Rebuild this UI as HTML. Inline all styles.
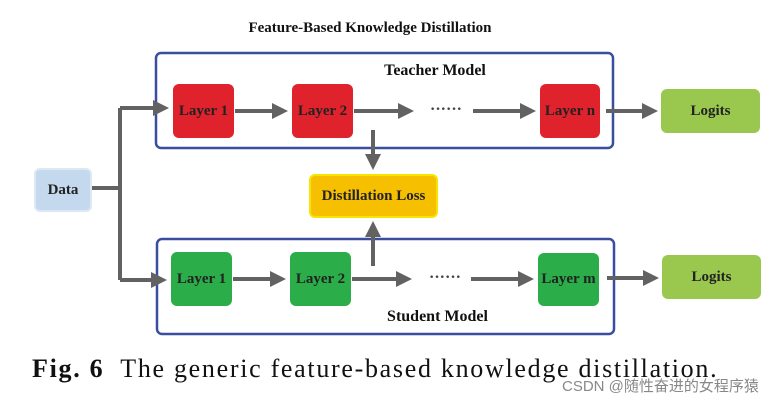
<!DOCTYPE html>
<html><head><meta charset="utf-8"><style>
body{margin:0;width:781px;height:402px;background:#fff;overflow:hidden;position:relative;font-family:"Liberation Serif",serif}
.b{position:absolute;border-radius:6px;display:flex;align-items:center;justify-content:center;font-weight:bold;font-size:15px;color:#222;white-space:nowrap}
.t{position:absolute;font-weight:bold;color:#111}
</style></head><body>
<svg width="781" height="402" style="position:absolute;left:0;top:0">
<defs><marker id="a" markerWidth="4" markerHeight="4" refX="3" refY="2" orient="auto"><path d="M0,0 L4,2 L0,4z" fill="#626262"/></marker></defs>
<rect x="156" y="53" width="457" height="95" rx="5" fill="none" stroke="#3a4ea0" stroke-width="2.5"/>
<rect x="157" y="239" width="457" height="95" rx="5" fill="none" stroke="#3a4ea0" stroke-width="2.5"/>
<g stroke="#626262" stroke-width="4" fill="none">
<path d="M92,188 H120"/><path d="M120,108 V280"/>
<path d="M120,108 H165" marker-end="url(#a)"/><path d="M120,280 H163" marker-end="url(#a)"/>
<path d="M235,111 H284" marker-end="url(#a)"/><path d="M233,279 H282" marker-end="url(#a)"/>
<path d="M354,111 H410" marker-end="url(#a)"/><path d="M352,279 H408" marker-end="url(#a)"/>
<path d="M473,111 H532" marker-end="url(#a)"/><path d="M471,279 H530" marker-end="url(#a)"/>
<path d="M606,111 H654" marker-end="url(#a)"/><path d="M607,278 H655" marker-end="url(#a)"/>
<path d="M373,130 V166" marker-end="url(#a)"/><path d="M373,266 V225" marker-end="url(#a)"/>
</g>
<text x="430" y="114" font-size="16" font-weight="bold" fill="#444">······</text>
<text x="429" y="282" font-size="16" font-weight="bold" fill="#444">······</text>
</svg>
<div class="t" style="left:0;width:740px;top:20px;text-align:center;font-size:15px">Feature-Based Knowledge Distillation</div>
<div class="t" style="left:340px;width:190px;top:62px;text-align:center;font-size:16px">Teacher Model</div>
<div class="t" style="left:340px;width:195px;top:308px;text-align:center;font-size:16px">Student Model</div>
<div class="b" style="left:34px;top:168px;width:58px;height:44px;background:#c5d9ee;border:2px solid #dce8f4;box-sizing:border-box">Data</div>
<div class="b" style="left:173px;top:84px;width:61px;height:54px;background:#e0222c">Layer 1</div>
<div class="b" style="left:292px;top:84px;width:61px;height:54px;background:#e0222c">Layer 2</div>
<div class="b" style="left:540px;top:84px;width:60px;height:54px;background:#e0222c">Layer n</div>
<div class="b" style="left:171px;top:252px;width:61px;height:54px;background:#2bad4a">Layer 1</div>
<div class="b" style="left:290px;top:252px;width:61px;height:54px;background:#2bad4a">Layer 2</div>
<div class="b" style="left:538px;top:253px;width:61px;height:53px;background:#2bad4a">Layer m</div>
<div class="b" style="left:661px;top:89px;width:99px;height:44px;background:#9ac84f">Logits</div>
<div class="b" style="left:662px;top:255px;width:99px;height:44px;background:#9ac84f">Logits</div>
<div class="b" style="left:309px;top:174px;width:129px;height:44px;background:#f6bf00;border:2px solid #f7e400;box-sizing:border-box">Distillation Loss</div>
<div style="position:absolute;left:32px;top:354px;font-size:26px;letter-spacing:1.7px;color:#111;white-space:nowrap"><b>Fig. 6</b>&nbsp; The generic feature-based knowledge distillation.</div>
<div style="position:absolute;left:562px;top:375px;font-size:15px;color:#888;font-family:'Liberation Sans','Noto Sans CJK SC',sans-serif;white-space:nowrap">CSDN @随性奋进的女程序猿</div>
</body></html>
